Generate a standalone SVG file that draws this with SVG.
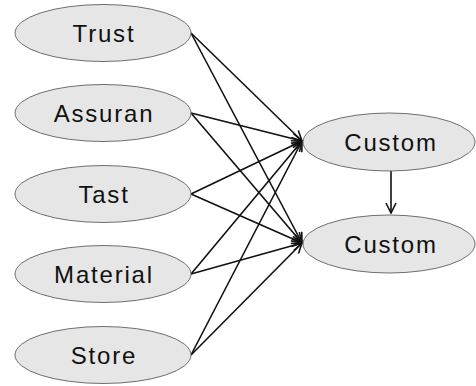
<svg xmlns="http://www.w3.org/2000/svg" width="476" height="386" viewBox="0 0 476 386">
<style>
.n{fill:#e6e6e6;stroke:#6e6e6e;stroke-width:1}
.t{font-family:"Liberation Sans",Arial,sans-serif;font-size:24px;letter-spacing:1.8px;fill:#111;text-anchor:middle}
.e{stroke:#111;stroke-width:1.6;fill:none;marker-end:url(#a)}
</style>
<defs>
<marker id="a" viewBox="0 0 12 12" refX="11" refY="6" markerWidth="12" markerHeight="12" markerUnits="userSpaceOnUse" orient="auto">
<path d="M1,1 L11,6 L1,11" fill="none" stroke="#111" stroke-width="1.6"/>
</marker>
</defs>
<rect width="476" height="386" fill="#fff"/>
<g id="edges">
<line class="e" x1="191" y1="33" x2="302" y2="141"/>
<line class="e" x1="191" y1="33" x2="302" y2="243"/>
<line class="e" x1="191" y1="113" x2="302" y2="141"/>
<line class="e" x1="191" y1="113" x2="302" y2="243"/>
<line class="e" x1="191" y1="194" x2="302" y2="141"/>
<line class="e" x1="191" y1="194" x2="302" y2="243"/>
<line class="e" x1="191" y1="274" x2="302" y2="141"/>
<line class="e" x1="191" y1="274" x2="302" y2="243"/>
<line class="e" x1="191" y1="355" x2="302" y2="141"/>
<line class="e" x1="191" y1="355" x2="302" y2="243"/>
<line class="e" x1="391" y1="170" x2="391" y2="213"/>
</g>
<g id="trust"><ellipse class="n" cx="103" cy="33" rx="88" ry="28.5"/><text class="t" x="104" y="42">Trust</text></g>
<g id="assuran"><ellipse class="n" cx="103" cy="113" rx="88" ry="28.5"/><text class="t" x="104" y="122">Assuran</text></g>
<g id="tast"><ellipse class="n" cx="103" cy="194" rx="88" ry="28.5"/><text class="t" x="104" y="203">Tast</text></g>
<g id="material"><ellipse class="n" cx="103" cy="274" rx="88" ry="28.5"/><text class="t" x="104" y="283">Material</text></g>
<g id="store"><ellipse class="n" cx="103" cy="355" rx="88" ry="28.5"/><text class="t" x="104" y="364">Store</text></g>
<g id="custom1"><ellipse class="n" cx="389" cy="142" rx="86" ry="29"/><text class="t" x="391" y="151">Custom</text></g>
<g id="custom2"><ellipse class="n" cx="389" cy="244" rx="86" ry="29"/><text class="t" x="391" y="253">Custom</text></g>
</svg>
